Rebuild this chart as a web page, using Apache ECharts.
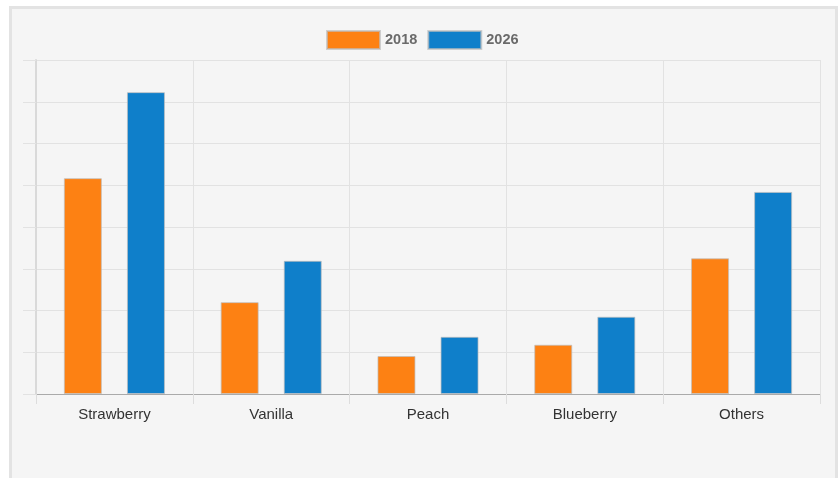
<!DOCTYPE html>
<html>
<head>
<meta charset="utf-8">
<script src="https://cdn.jsdelivr.net/npm/echarts@6/dist/echarts.min.js"></script>
<style>
html,body{margin:0;padding:0;background:#fff;width:840px;height:478px;overflow:hidden;}
#frame{position:absolute;left:9px;top:6px;width:823px;height:490px;border:3px solid #e3e3e3;border-bottom:none;background:#f5f5f5;}
#chart{position:absolute;left:0;top:0;width:840px;height:478px;}
</style>
</head>
<body>
<div id="frame"></div>
<div id="chart"></div>
<script>
var categories = ['Strawberry', 'Vanilla', 'Peach', 'Blueberry', 'Others'];
var seriesNames = ['2018', '2026'];
var values2018 = [51.7, 22.0, 9.1, 11.8, 32.5];
var values2026 = [72.3, 31.9, 13.7, 18.5, 48.4];
var colors = ['#fd8113', '#0f7fca'];

var chart = echarts.init(document.getElementById('chart'), null, {renderer: 'canvas'});
var font = 'Arial, "Liberation Sans", sans-serif';
chart.setOption({
  backgroundColor: 'transparent',
  animation: false,
  color: colors,
  legend: {
    top: 30,
    left: 326,
    padding: 0,
    itemWidth: 53,
    itemHeight: 18,
    itemGap: 10,
    icon: 'rect',
    textStyle: {color: '#6a6a6a', fontSize: 14.5, fontFamily: font, fontWeight: 'bold'},
    data: seriesNames
  },
  grid: {left: 36, right: 20, top: 60, bottom: 84, containLabel: false},
  xAxis: {
    type: 'category',
    data: categories,
    axisLine: {show: true, lineStyle: {color: '#aaa', width: 1}},
    axisTick: {show: true, length: 10, lineStyle: {color: '#ddd'}},
    splitLine: {show: true, lineStyle: {color: '#e2e2e2'}},
    axisLabel: {color: '#333', fontSize: 15, fontFamily: font, margin: 13}
  },
  yAxis: {
    type: 'value',
    min: 0,
    max: 80,
    interval: 10,
    axisLine: {show: true, lineStyle: {color: '#d9d9d9', width: 2}},
    axisTick: {show: true, length: 13, lineStyle: {color: '#e2e2e2'}},
    axisLabel: {show: false},
    splitLine: {show: true, lineStyle: {color: '#e2e2e2'}}
  },
  series: [
    {name: seriesNames[0], type: 'bar', data: values2018, barWidth: 38, barGap: '66%',
     itemStyle: {color: colors[0], borderColor: 'rgba(190,190,190,0.7)', borderWidth: 1}},
    {name: seriesNames[1], type: 'bar', data: values2026, barWidth: 38, barGap: '66%',
     itemStyle: {color: colors[1], borderColor: 'rgba(190,190,190,0.7)', borderWidth: 1}}
  ]
});
</script>
</body>
</html>
